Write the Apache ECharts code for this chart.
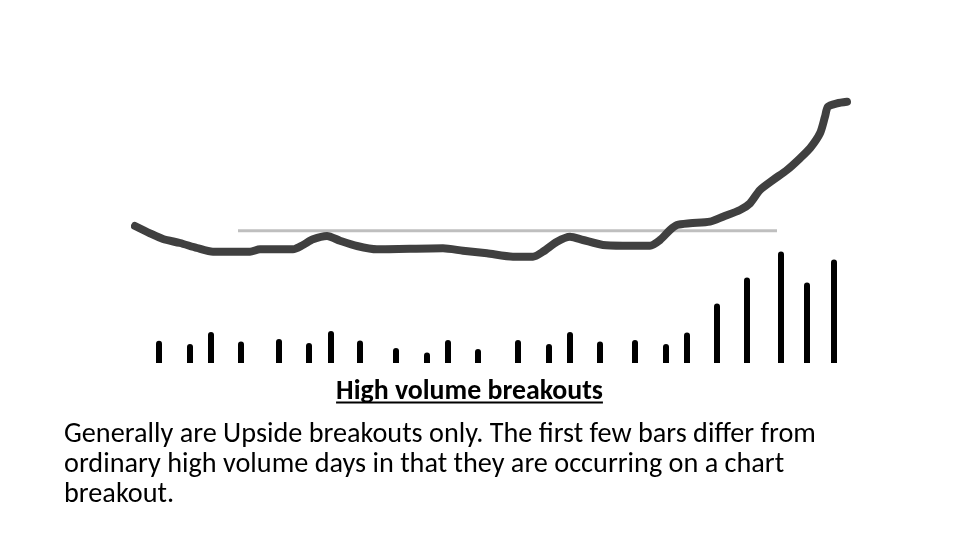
<!DOCTYPE html>
<html>
<head>
<meta charset="utf-8">
<script src="https://cdn.jsdelivr.net/npm/echarts@6/dist/echarts.min.js"></script>
<style>
html,body{margin:0;padding:0;background:#fff;}
#c{width:960px;height:540px;}
</style>
</head>
<body>
<div id="c"></div>
<script>
// ---- data ----
var priceT = [0,15,28,45,62,78,95,115,125,158,168,178,192,205,222,242,308,328,352,378,398,408,422,435,448,468,488,515,525,535,542,555,575,588,605,615,625,638,652,665,675,685,690,693,702,712];
var priceV = [13.7,12.97,12.4,12.0,11.5,11.13,11.13,11.13,11.37,11.37,11.8,12.37,12.7,12.23,11.7,11.37,11.47,11.23,10.97,10.63,10.63,11.13,12.13,12.63,12.3,11.8,11.73,11.73,12.3,13.3,13.8,13.97,14.13,14.63,15.3,15.97,17.3,18.3,19.3,20.47,21.47,22.97,24.63,25.63,25.97,26.13];
var volT = [24,55,76,106,144,174,196,225,261,292,313,343,383,414,435,465,500,531,552,582,612,646,672,699];
var volV = [223,190,310,216,240,200,320,226,150,106,230,140,230,190,310,216,230,190,306,596,856,1116,806,1036];
var resistanceT = [103,642];
var resistanceLevel = 13.23;
var titleText = 'High volume breakouts';
var bodyLines = [
  'Generally are Upside breakouts only. The first few bars differ from',
  'ordinary high volume days in that they are occurring on a chart',
  'breakout.'
];

// ---- build ----
var FONT = 'Carlito, Calibri, Lato, "Open Sans", sans-serif';
var cv = document.createElement('canvas').getContext('2d');
function measure(txt, weight, size){ cv.font = weight + ' ' + size + 'px ' + FONT; return cv.measureText(txt).width; }
var bodySize = 24 * 752 / measure(bodyLines[0], 'normal', 24);
var titleSize = 24 * 267 / measure(titleText, 'bold', 24);
var titleW = measure(titleText, 'bold', titleSize);
var titleCx = 469.5;

var priceData = priceT.map(function(t,i){ return [t, priceV[i]]; });
var volData = volT.map(function(t,i){ return [t, volV[i]]; });
var resData = resistanceT.map(function(t){ return [t, resistanceLevel]; });

var graphics = [
  { type:'text', style:{ text:titleText, x:titleCx, y:392, align:'center', verticalAlign:'middle', font:'bold ' + titleSize.toFixed(2) + 'px ' + FONT, fill:'#000' } },
  { type:'rect', shape:{ x:titleCx - titleW/2, y:401.5, width:titleW, height:2 }, style:{ fill:'#000' } }
];
bodyLines.forEach(function(l, i){
  graphics.push({ type:'text', style:{ text:l, x:64, y:435 + i*30, align:'left', verticalAlign:'middle', font:'normal ' + bodySize.toFixed(2) + 'px ' + FONT, fill:'#000' } });
});

var chart = echarts.init(document.getElementById('c'), null, {renderer:'canvas'});
chart.setOption({
  animation:false,
  backgroundColor:'#fff',
  grid:{ left:135, right:112, top:101, bottom:177 },
  xAxis:{ type:'value', min:0, max:713, show:false },
  yAxis:[
    { type:'value', min:0, max:26.2, show:false },
    { type:'value', min:0, max:2620, show:false }
  ],
  series:[
    { type:'bar', yAxisIndex:1, data:volData, barWidth:6, itemStyle:{ color:'#000', borderRadius:[3,3,0,0] }, silent:true },
    { type:'line', data:resData, symbol:'none', clip:false, lineStyle:{ color:'#bfbfbf', width:3 }, silent:true },
    { type:'line', data:priceData, symbol:'none', smooth:0.25, clip:false, lineStyle:{ color:'#404040', width:8, cap:'round', join:'round' }, silent:true }
  ],
  graphic: graphics
});
</script>
</body>
</html>
